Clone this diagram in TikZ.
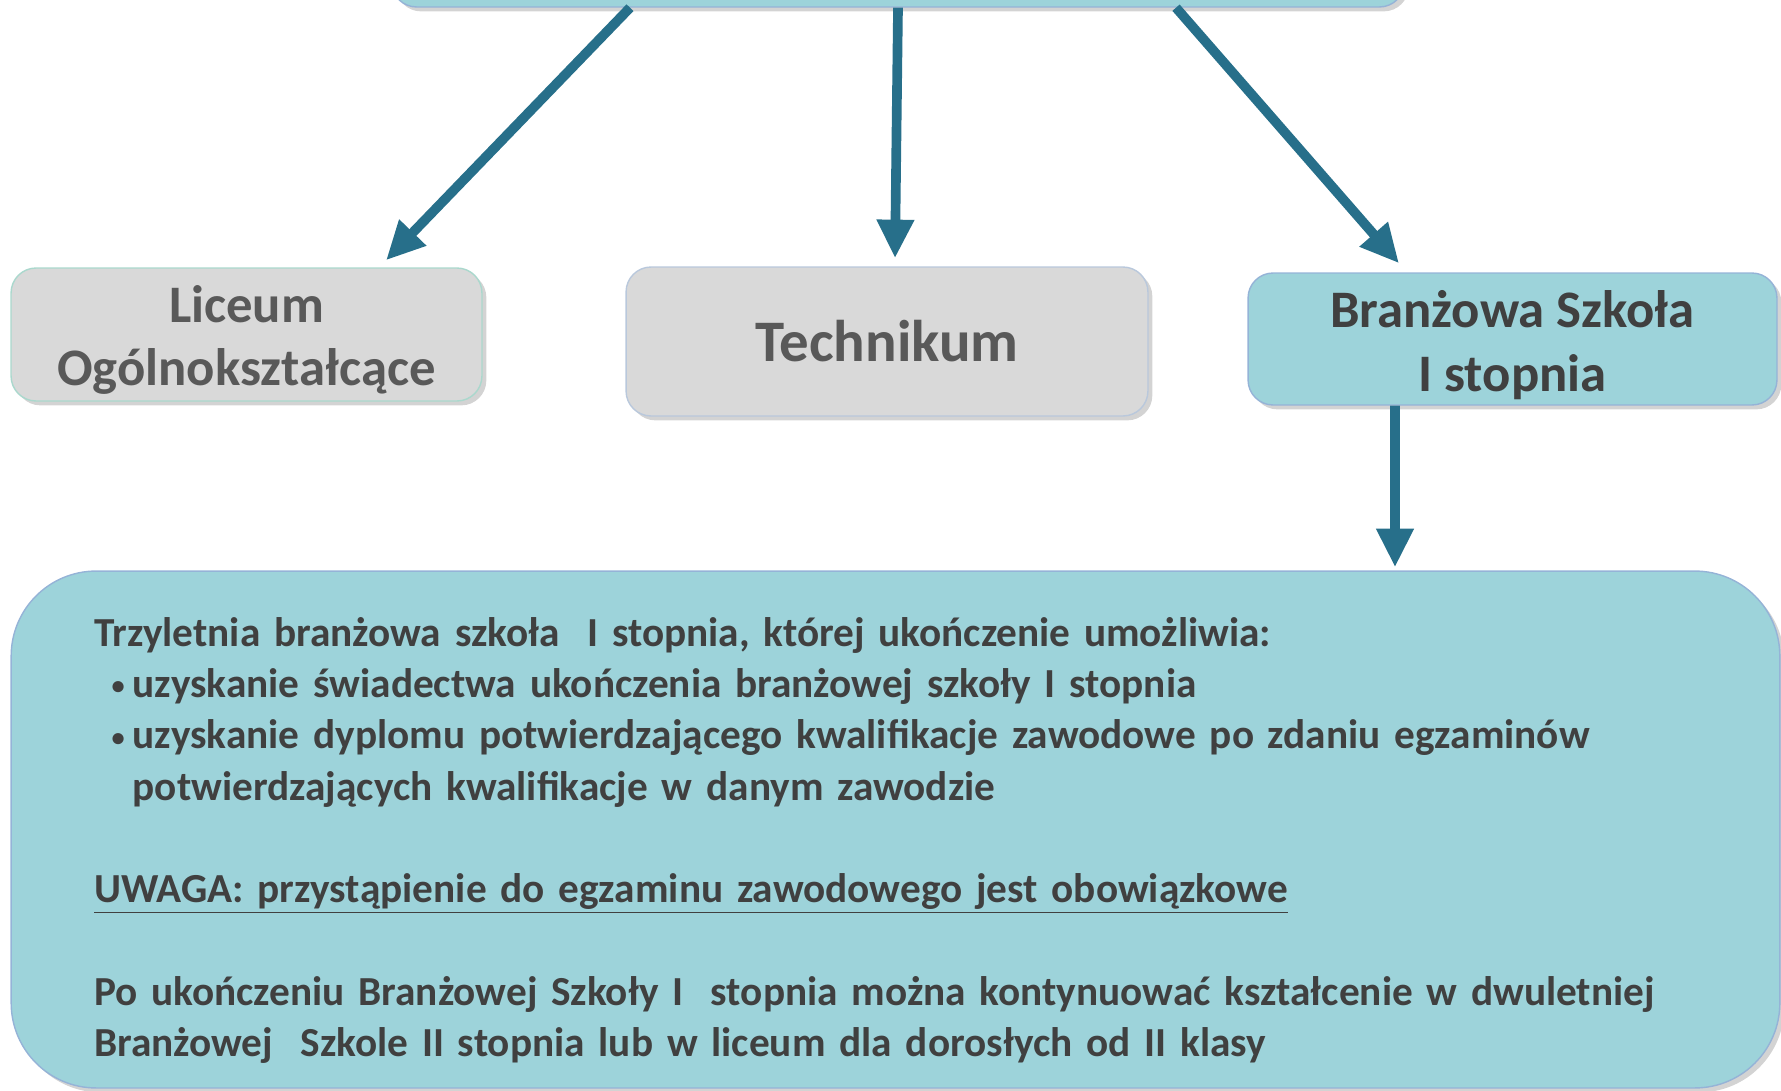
\documentclass[tikz,border=0pt]{standalone}
\usepackage{fontspec}
\setmainfont{Carlito}
\usetikzlibrary{arrows.meta,shadows,calc}

\definecolor{strzalka}{RGB}{39,111,138}
\definecolor{niebieski}{RGB}{157,211,218}
\definecolor{szary}{RGB}{217,217,217}
\definecolor{ramkan}{RGB}{149,179,215}
\definecolor{ramkas}{RGB}{170,216,205}
\definecolor{ramkat}{RGB}{185,200,220}
\definecolor{tekst}{RGB}{64,64,64}
\definecolor{tekstszary}{RGB}{89,89,89}

\newcommand{\punkt}{\hspace*{10pt}\makebox[12pt][l]{\raisebox{1.5pt}{\fontsize{15}{15}\selectfont •}}}
\newcommand{\podnies}[1]{\rule{0pt}{#1}}

\begin{document}
\begin{tikzpicture}[x=0.02cm, y=-0.02cm,
	pudlo/.style={rounded corners=0.5cm, line width=0.8pt, inner sep=0pt, align=center,
		drop shadow={opacity=0.35, shadow xshift=2.5pt, shadow yshift=-2.5pt},
		font=\bfseries\fontsize{30}{36}\selectfont},
	niebieskie/.style={pudlo, fill=niebieski, draw=ramkan, text=tekst},
	szare/.style={pudlo, fill=szary, text=tekstszary},
	opisowe/.style={niebieskie, rounded corners=1.7cm, align=left, inner xsep=1.66cm,
		text width=32.06cm, font=\bfseries\fontsize{23.5}{29.2}\selectfont},
	strz/.style={draw=strzalka, line width=5.5pt, -{Triangle[length=22pt,width=20pt]}}]
	\useasboundingbox (0,0) rectangle (1781,1091);
	\clip (0,0) rectangle (1781,1091);
	
	\node[niebieskie, minimum width=20.26cm, minimum height=2cm] (gora) at (898,-43) {};
	\node[szare, draw=ramkas, minimum width=9.42cm, minimum height=2.66cm] (liceum) at (246.5,334.5) {\podnies{27pt}Liceum\\Ogólnokształcące};
	\node[szare, draw=ramkat, minimum width=10.44cm, minimum height=2.98cm,
		font=\bfseries\fontsize{33.5}{38}\selectfont] (technikum) at (887,341.5) {Technikum};
	\node[niebieskie, minimum width=10.58cm, minimum height=2.64cm] (branzowa) at (1512.5,339) {\podnies{28pt}Branżowa Szkoła\\I stopnia};
	\node[opisowe, minimum width=35.38cm, minimum height=10.34cm] (opis) at (895.5,829.5) {%
		\podnies{29pt}Trzyletnia branżowa szkoła\ \ I stopnia, której ukończenie umożliwia:\\
		\punkt uzyskanie świadectwa ukończenia branżowej szkoły I stopnia\\
		\punkt uzyskanie dyplomu potwierdzającego kwalifikacje zawodowe po zdaniu egzaminów\\
		\hspace*{22pt}potwierdzających kwalifikacje w danym zawodzie\\[29.2pt]
		\underline{UWAGA: przystąpienie do egzaminu zawodowego jest obowiązkowe}\\[29.2pt]
		Po ukończeniu Branżowej Szkoły I\ \ stopnia można kontynuować kształcenie w dwuletniej\\
		Branżowej\ \ Szkole II stopnia lub w liceum dla dorosłych od II klasy};
	
	\draw[strz] ($(gora.south)+(-268,0)$) -- ($(liceum.north)+(139.5,-7)$);
	\draw[strz] (gora.south) -- ($(technikum.north)+(8,-8)$);
	\draw[strz] ($(gora.south)+(278,0)$) -- ($(branzowa.north)+(-113.5,-9)$);
	\draw[strz] ($(branzowa.south)+(-117.5,0)$) -- ($(opis.north)+(499.5,-3)$);
\end{tikzpicture}
\end{document}
